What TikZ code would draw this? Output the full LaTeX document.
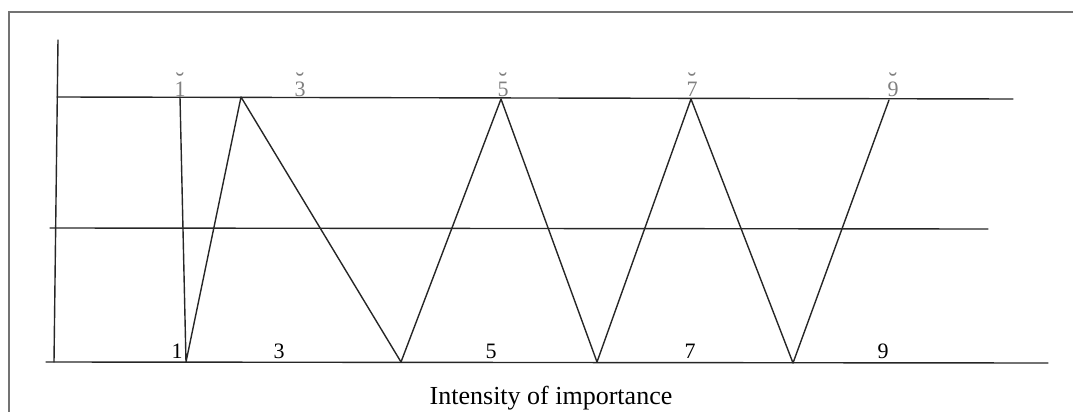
\documentclass[tikz,border=0pt]{standalone}
\usepackage{fontspec}
\setmainfont{Liberation Serif}
\newcommand\arcsur[1]{\ooalign{#1\cr\hidewidth\raisebox{6pt}{\fontsize{26}{26}\selectfont\char"02D8}\hidewidth\cr}}

\begin{document}
\begin{tikzpicture}[x=1pt, y=-1pt, line cap=round,
  trait/.style={draw=black!85, line width=1.4pt},
  cadre/.style={draw=black!55, line width=1.8pt},
  chiffre/.style={anchor=base, inner sep=0pt, font=\fontsize{22}{26}\selectfont},
  flou/.style={chiffre, text=black!50}]

\useasboundingbox (0,0) rectangle (1073,412);

%% Le cadre.

\draw[cadre] (9,412) -- (9,12) -- (1073,12);

%% Les axes et les deux niveaux.

\draw[trait] (58,40) -- (54,362);
\draw[trait] (57,97) -- (1013,99);
\draw[trait] (50,228) -- (988,229);
\draw[trait] (46,362) -- (1048,363);

%% Les sommets de la ligne brisee.

\coordinate (h1) at (180,97);
\coordinate (b1) at (186,362);
\coordinate (h3) at (241,97);
\coordinate (b3) at (401,362);
\coordinate (h5) at (501,99);
\coordinate (b5) at (597,362);
\coordinate (h7) at (691,99);
\coordinate (b7) at (793,363);
\coordinate (h9) at (889,100);

\draw[trait, line join=round] (h1) -- (b1) -- (h3) -- (b3) -- (h5) -- (b5) -- (h7) -- (b7) -- (h9);

%% Les valeurs.

\foreach \v/\xh/\xb in {1/180/177, 3/300/279, 5/503/491, 7/692/690, 9/893/883} {
  \node[flou]   (t\v) at (\xh,96)  {\arcsur{\v}};
  \node[chiffre] (n\v) at (\xb,358) {\v};
}

%% Le nom de l'axe.

\node[anchor=base, inner sep=0pt, font=\fontsize{26}{30}\selectfont] (titre) at (551,404) {Intensity of importance};

\end{tikzpicture}
\end{document}
